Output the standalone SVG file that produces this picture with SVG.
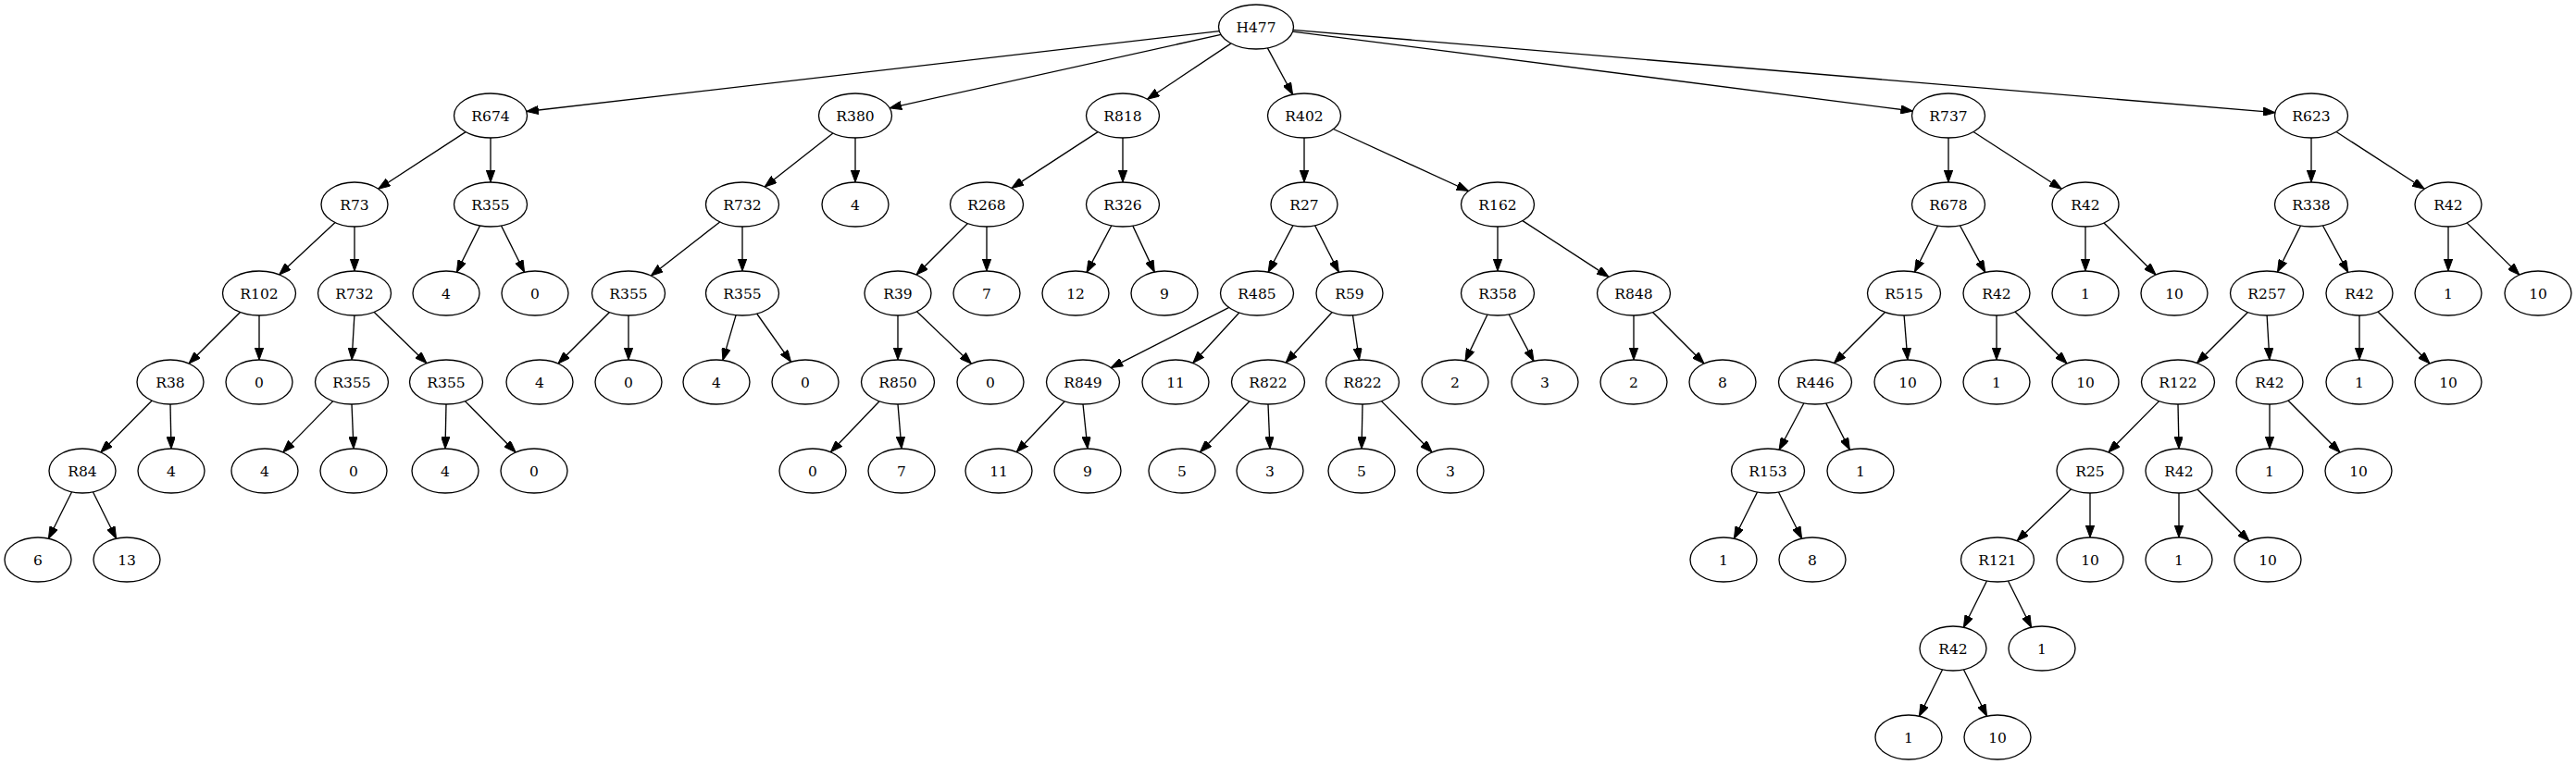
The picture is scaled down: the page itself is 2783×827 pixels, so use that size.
<svg xmlns="http://www.w3.org/2000/svg" width="2783" height="827" viewBox="0 0 2783 827">
<style>
ellipse{fill:#fff;stroke:#000;stroke-width:1.33}
text{font-family:"DejaVu Serif","Liberation Serif",serif;font-size:15.5px;text-anchor:middle;fill:#000}
#edges line{stroke:#000;stroke-width:1.33;marker-end:url(#arr)}
</style>
<defs>
<marker id="arr" markerUnits="userSpaceOnUse" viewBox="0 0 13 9.4" refX="13" refY="4.7" markerWidth="13" markerHeight="9.4" orient="auto">
<path d="M0,0 L13,4.7 L0,9.4 z" fill="#000" stroke="#000" stroke-width="1"/>
</marker>
</defs>
<rect width="2783" height="827" fill="#fff"/>
<g id="edges">
<line x1="1317.3" y1="33.6" x2="568.8" y2="120.5"/>
<line x1="1319.1" y1="37.4" x2="961.1" y2="116.8"/>
<line x1="1330.1" y1="46.9" x2="1239.6" y2="107.3"/>
<line x1="1369.4" y1="51.9" x2="1396.6" y2="102.2"/>
<line x1="1396.6" y1="34.1" x2="2066.4" y2="120.0"/>
<line x1="1397.1" y1="32.4" x2="2457.9" y2="121.7"/>
<line x1="503.1" y1="142.6" x2="408.7" y2="204.2"/>
<line x1="530" y1="149" x2="530" y2="197"/>
<line x1="899.9" y1="144" x2="826.1" y2="202"/>
<line x1="924" y1="149" x2="924" y2="197"/>
<line x1="1186.1" y1="142.6" x2="1092.9" y2="203.4"/>
<line x1="1213" y1="149" x2="1213" y2="197"/>
<line x1="1409" y1="149" x2="1409" y2="197"/>
<line x1="1440.5" y1="139.5" x2="1586.5" y2="206.5"/>
<line x1="2105" y1="149" x2="2105" y2="197"/>
<line x1="2132" y1="142.5" x2="2227.2" y2="204.3"/>
<line x1="2497" y1="149" x2="2497" y2="197"/>
<line x1="2524" y1="142.5" x2="2619.2" y2="204.3"/>
<line x1="362.1" y1="240.5" x2="301.6" y2="296.9"/>
<line x1="383" y1="245" x2="383" y2="293"/>
<line x1="518.5" y1="244" x2="493.4" y2="294.2"/>
<line x1="541.5" y1="244" x2="566.6" y2="294.2"/>
<line x1="777.7" y1="239.9" x2="703.3" y2="298.1"/>
<line x1="802" y1="245" x2="802" y2="293"/>
<line x1="1045.5" y1="241.5" x2="990" y2="297"/>
<line x1="1066" y1="245" x2="1066" y2="293"/>
<line x1="1200.9" y1="243.8" x2="1174" y2="294.4"/>
<line x1="1223.8" y1="244.1" x2="1247.3" y2="294.1"/>
<line x1="1397" y1="243.6" x2="1370.1" y2="294.2"/>
<line x1="1420.6" y1="243.7" x2="1446.4" y2="294.3"/>
<line x1="1618" y1="245" x2="1618" y2="293"/>
<line x1="1644.9" y1="238.6" x2="1738.1" y2="299.4"/>
<line x1="2093.5" y1="244" x2="2068.5" y2="294"/>
<line x1="2117.4" y1="243.8" x2="2144.8" y2="294.4"/>
<line x1="2253" y1="245" x2="2253" y2="293"/>
<line x1="2273" y1="241" x2="2329" y2="297"/>
<line x1="2485.5" y1="244" x2="2460.5" y2="294"/>
<line x1="2509.4" y1="243.8" x2="2536.8" y2="294.4"/>
<line x1="2645" y1="245" x2="2645" y2="293"/>
<line x1="2665.1" y1="240.9" x2="2721.9" y2="297.1"/>
<line x1="259.5" y1="337.5" x2="204" y2="393"/>
<line x1="280" y1="341" x2="280" y2="389"/>
<line x1="382.9" y1="341" x2="380.1" y2="389"/>
<line x1="404" y1="337.3" x2="461" y2="392.7"/>
<line x1="658.5" y1="337.5" x2="603" y2="393"/>
<line x1="679" y1="341" x2="679" y2="389"/>
<line x1="795.1" y1="340.6" x2="780.9" y2="389.4"/>
<line x1="817.6" y1="339" x2="854.6" y2="391.3"/>
<line x1="970" y1="341" x2="970" y2="389"/>
<line x1="990.5" y1="336.7" x2="1049.5" y2="393.3"/>
<line x1="1327.8" y1="332.4" x2="1200.2" y2="397.6"/>
<line x1="1338.8" y1="338" x2="1288.8" y2="392.5"/>
<line x1="1439.2" y1="337.5" x2="1389.2" y2="392"/>
<line x1="1461.5" y1="340.9" x2="1468.5" y2="389.1"/>
<line x1="1607" y1="340" x2="1583" y2="390.1"/>
<line x1="1630.1" y1="339.8" x2="1657" y2="390.4"/>
<line x1="1765" y1="341" x2="1765" y2="389"/>
<line x1="1785.5" y1="337.5" x2="1841" y2="393"/>
<line x1="2036.5" y1="337.5" x2="1981.5" y2="392.5"/>
<line x1="2057.1" y1="341" x2="2060.9" y2="389"/>
<line x1="2157" y1="341" x2="2157" y2="389"/>
<line x1="2177" y1="337" x2="2233" y2="393"/>
<line x1="2428.5" y1="337.5" x2="2373.5" y2="392.5"/>
<line x1="2449.1" y1="341" x2="2451.9" y2="389"/>
<line x1="2549" y1="341" x2="2549" y2="389"/>
<line x1="2569" y1="337" x2="2625" y2="393"/>
<line x1="164.2" y1="433" x2="108.8" y2="489"/>
<line x1="184" y1="437" x2="185" y2="485"/>
<line x1="359.8" y1="433.6" x2="305.7" y2="488.9"/>
<line x1="380" y1="437" x2="382" y2="485"/>
<line x1="482" y1="437" x2="481" y2="485"/>
<line x1="502.4" y1="433.6" x2="557.2" y2="489"/>
<line x1="950.1" y1="433.7" x2="897.4" y2="488.8"/>
<line x1="970" y1="437" x2="974" y2="485"/>
<line x1="1150.3" y1="433.8" x2="1098.2" y2="488.7"/>
<line x1="1170" y1="437" x2="1175" y2="485"/>
<line x1="1350" y1="433.7" x2="1296.5" y2="488.8"/>
<line x1="1370" y1="437" x2="1372" y2="485"/>
<line x1="1472" y1="437" x2="1471" y2="485"/>
<line x1="1492.4" y1="433.6" x2="1547.2" y2="489"/>
<line x1="1948.9" y1="435.8" x2="1922.1" y2="486.2"/>
<line x1="1972.7" y1="435.9" x2="1998.4" y2="486.3"/>
<line x1="2332.6" y1="433.6" x2="2277.8" y2="489"/>
<line x1="2353" y1="437" x2="2354" y2="485"/>
<line x1="2452" y1="437" x2="2452" y2="485"/>
<line x1="2472" y1="433" x2="2528" y2="489"/>
<line x1="77.6" y1="531.8" x2="52.4" y2="582.2"/>
<line x1="100.4" y1="531.8" x2="125.6" y2="582.2"/>
<line x1="1898.5" y1="532" x2="1873.4" y2="582.2"/>
<line x1="1921.5" y1="532" x2="1946.6" y2="582.2"/>
<line x1="2237.5" y1="528.7" x2="2179.1" y2="584.7"/>
<line x1="2258" y1="533" x2="2258" y2="581"/>
<line x1="2354" y1="533" x2="2354" y2="581"/>
<line x1="2374" y1="529" x2="2430" y2="585"/>
<line x1="2146.5" y1="628" x2="2121.4" y2="678.2"/>
<line x1="2169.5" y1="628" x2="2194.6" y2="678.2"/>
<line x1="2098.6" y1="723.8" x2="2073.4" y2="774.2"/>
<line x1="2121.4" y1="723.8" x2="2146.6" y2="774.2"/>
</g>
<g id="H477"><ellipse cx="1357" cy="29" rx="40.5" ry="24"/><text x="1357" y="34.5">H477</text></g>
<g id="R674"><ellipse cx="530" cy="125" rx="39.5" ry="24"/><text x="530" y="130.5">R674</text></g>
<g id="R380"><ellipse cx="924" cy="125" rx="39.5" ry="24"/><text x="924" y="130.5">R380</text></g>
<g id="R818"><ellipse cx="1213" cy="125" rx="39.5" ry="24"/><text x="1213" y="130.5">R818</text></g>
<g id="R402"><ellipse cx="1409" cy="125" rx="39.5" ry="24"/><text x="1409" y="130.5">R402</text></g>
<g id="R737"><ellipse cx="2105" cy="125" rx="39.5" ry="24"/><text x="2105" y="130.5">R737</text></g>
<g id="R623"><ellipse cx="2497" cy="125" rx="39.5" ry="24"/><text x="2497" y="130.5">R623</text></g>
<g id="R73"><ellipse cx="383" cy="221" rx="36" ry="24"/><text x="383" y="226.5">R73</text></g>
<g id="R355_a"><ellipse cx="530" cy="221" rx="39.5" ry="24"/><text x="530" y="226.5">R355</text></g>
<g id="R732_a"><ellipse cx="802" cy="221" rx="39.5" ry="24"/><text x="802" y="226.5">R732</text></g>
<g id="n4_a"><ellipse cx="924" cy="221" rx="36" ry="24"/><text x="924" y="226.5">4</text></g>
<g id="R268"><ellipse cx="1066" cy="221" rx="39.5" ry="24"/><text x="1066" y="226.5">R268</text></g>
<g id="R326"><ellipse cx="1213" cy="221" rx="39.5" ry="24"/><text x="1213" y="226.5">R326</text></g>
<g id="R27"><ellipse cx="1409" cy="221" rx="36" ry="24"/><text x="1409" y="226.5">R27</text></g>
<g id="R162"><ellipse cx="1618" cy="221" rx="39.5" ry="24"/><text x="1618" y="226.5">R162</text></g>
<g id="R678"><ellipse cx="2105" cy="221" rx="39.5" ry="24"/><text x="2105" y="226.5">R678</text></g>
<g id="R42_a"><ellipse cx="2253" cy="221" rx="36" ry="24"/><text x="2253" y="226.5">R42</text></g>
<g id="R338"><ellipse cx="2497" cy="221" rx="39.5" ry="24"/><text x="2497" y="226.5">R338</text></g>
<g id="R42_b"><ellipse cx="2645" cy="221" rx="36" ry="24"/><text x="2645" y="226.5">R42</text></g>
<g id="R102"><ellipse cx="280" cy="317" rx="39.5" ry="24"/><text x="280" y="322.5">R102</text></g>
<g id="R732_b"><ellipse cx="383" cy="317" rx="39.5" ry="24"/><text x="383" y="322.5">R732</text></g>
<g id="n4_b"><ellipse cx="482" cy="317" rx="36" ry="24"/><text x="482" y="322.5">4</text></g>
<g id="n0_b"><ellipse cx="578" cy="317" rx="36" ry="24"/><text x="578" y="322.5">0</text></g>
<g id="R355_b"><ellipse cx="679" cy="317" rx="39.5" ry="24"/><text x="679" y="322.5">R355</text></g>
<g id="R355_c"><ellipse cx="802" cy="317" rx="39.5" ry="24"/><text x="802" y="322.5">R355</text></g>
<g id="R39"><ellipse cx="970" cy="317" rx="36" ry="24"/><text x="970" y="322.5">R39</text></g>
<g id="n7_a"><ellipse cx="1066" cy="317" rx="36" ry="24"/><text x="1066" y="322.5">7</text></g>
<g id="n12"><ellipse cx="1162" cy="317" rx="36" ry="24"/><text x="1162" y="322.5">12</text></g>
<g id="n9_a"><ellipse cx="1258" cy="317" rx="36" ry="24"/><text x="1258" y="322.5">9</text></g>
<g id="R485"><ellipse cx="1358" cy="317" rx="39.5" ry="24"/><text x="1358" y="322.5">R485</text></g>
<g id="R59"><ellipse cx="1458" cy="317" rx="36" ry="24"/><text x="1458" y="322.5">R59</text></g>
<g id="R358"><ellipse cx="1618" cy="317" rx="39.5" ry="24"/><text x="1618" y="322.5">R358</text></g>
<g id="R848"><ellipse cx="1765" cy="317" rx="39.5" ry="24"/><text x="1765" y="322.5">R848</text></g>
<g id="R515"><ellipse cx="2057" cy="317" rx="39.5" ry="24"/><text x="2057" y="322.5">R515</text></g>
<g id="R42_c"><ellipse cx="2157" cy="317" rx="36" ry="24"/><text x="2157" y="322.5">R42</text></g>
<g id="n1_a"><ellipse cx="2253" cy="317" rx="36" ry="24"/><text x="2253" y="322.5">1</text></g>
<g id="n10_a"><ellipse cx="2349" cy="317" rx="36" ry="24"/><text x="2349" y="322.5">10</text></g>
<g id="R257"><ellipse cx="2449" cy="317" rx="39.5" ry="24"/><text x="2449" y="322.5">R257</text></g>
<g id="R42_d"><ellipse cx="2549" cy="317" rx="36" ry="24"/><text x="2549" y="322.5">R42</text></g>
<g id="n1_b"><ellipse cx="2645" cy="317" rx="36" ry="24"/><text x="2645" y="322.5">1</text></g>
<g id="n10_b"><ellipse cx="2742" cy="317" rx="36" ry="24"/><text x="2742" y="322.5">10</text></g>
<g id="R38"><ellipse cx="184" cy="413" rx="36" ry="24"/><text x="184" y="418.5">R38</text></g>
<g id="n0_c"><ellipse cx="280" cy="413" rx="36" ry="24"/><text x="280" y="418.5">0</text></g>
<g id="R355_d"><ellipse cx="380" cy="413" rx="39.5" ry="24"/><text x="380" y="418.5">R355</text></g>
<g id="R355_e"><ellipse cx="482" cy="413" rx="39.5" ry="24"/><text x="482" y="418.5">R355</text></g>
<g id="n4_c"><ellipse cx="583" cy="413" rx="36" ry="24"/><text x="583" y="418.5">4</text></g>
<g id="n0_d"><ellipse cx="679" cy="413" rx="36" ry="24"/><text x="679" y="418.5">0</text></g>
<g id="n4_d"><ellipse cx="774" cy="413" rx="36" ry="24"/><text x="774" y="418.5">4</text></g>
<g id="n0_e"><ellipse cx="870" cy="413" rx="36" ry="24"/><text x="870" y="418.5">0</text></g>
<g id="R850"><ellipse cx="970" cy="413" rx="39.5" ry="24"/><text x="970" y="418.5">R850</text></g>
<g id="n0_f"><ellipse cx="1070" cy="413" rx="36" ry="24"/><text x="1070" y="418.5">0</text></g>
<g id="R849"><ellipse cx="1170" cy="413" rx="39.5" ry="24"/><text x="1170" y="418.5">R849</text></g>
<g id="n11_a"><ellipse cx="1270" cy="413" rx="36" ry="24"/><text x="1270" y="418.5">11</text></g>
<g id="R822_a"><ellipse cx="1370" cy="413" rx="39.5" ry="24"/><text x="1370" y="418.5">R822</text></g>
<g id="R822_b"><ellipse cx="1472" cy="413" rx="39.5" ry="24"/><text x="1472" y="418.5">R822</text></g>
<g id="n2_a"><ellipse cx="1572" cy="413" rx="36" ry="24"/><text x="1572" y="418.5">2</text></g>
<g id="n3_a"><ellipse cx="1669" cy="413" rx="36" ry="24"/><text x="1669" y="418.5">3</text></g>
<g id="n2_b"><ellipse cx="1765" cy="413" rx="36" ry="24"/><text x="1765" y="418.5">2</text></g>
<g id="n8_a"><ellipse cx="1861" cy="413" rx="36" ry="24"/><text x="1861" y="418.5">8</text></g>
<g id="R446"><ellipse cx="1961" cy="413" rx="39.5" ry="24"/><text x="1961" y="418.5">R446</text></g>
<g id="n10_c"><ellipse cx="2061" cy="413" rx="36" ry="24"/><text x="2061" y="418.5">10</text></g>
<g id="n1_c"><ellipse cx="2157" cy="413" rx="36" ry="24"/><text x="2157" y="418.5">1</text></g>
<g id="n10_d"><ellipse cx="2253" cy="413" rx="36" ry="24"/><text x="2253" y="418.5">10</text></g>
<g id="R122"><ellipse cx="2353" cy="413" rx="39.5" ry="24"/><text x="2353" y="418.5">R122</text></g>
<g id="R42_e"><ellipse cx="2452" cy="413" rx="36" ry="24"/><text x="2452" y="418.5">R42</text></g>
<g id="n1_d"><ellipse cx="2549" cy="413" rx="36" ry="24"/><text x="2549" y="418.5">1</text></g>
<g id="n10_e"><ellipse cx="2645" cy="413" rx="36" ry="24"/><text x="2645" y="418.5">10</text></g>
<g id="R84"><ellipse cx="89" cy="509" rx="36" ry="24"/><text x="89" y="514.5">R84</text></g>
<g id="n4_e"><ellipse cx="185" cy="509" rx="36" ry="24"/><text x="185" y="514.5">4</text></g>
<g id="n4_f"><ellipse cx="286" cy="509" rx="36" ry="24"/><text x="286" y="514.5">4</text></g>
<g id="n0_g"><ellipse cx="382" cy="509" rx="36" ry="24"/><text x="382" y="514.5">0</text></g>
<g id="n4_g"><ellipse cx="481" cy="509" rx="36" ry="24"/><text x="481" y="514.5">4</text></g>
<g id="n0_h"><ellipse cx="577" cy="509" rx="36" ry="24"/><text x="577" y="514.5">0</text></g>
<g id="n0_i"><ellipse cx="878" cy="509" rx="36" ry="24"/><text x="878" y="514.5">0</text></g>
<g id="n7_b"><ellipse cx="974" cy="509" rx="36" ry="24"/><text x="974" y="514.5">7</text></g>
<g id="n11_b"><ellipse cx="1079" cy="509" rx="36" ry="24"/><text x="1079" y="514.5">11</text></g>
<g id="n9_b"><ellipse cx="1175" cy="509" rx="36" ry="24"/><text x="1175" y="514.5">9</text></g>
<g id="n5_a"><ellipse cx="1277" cy="509" rx="36" ry="24"/><text x="1277" y="514.5">5</text></g>
<g id="n3_b"><ellipse cx="1372" cy="509" rx="36" ry="24"/><text x="1372" y="514.5">3</text></g>
<g id="n5_b"><ellipse cx="1471" cy="509" rx="36" ry="24"/><text x="1471" y="514.5">5</text></g>
<g id="n3_c"><ellipse cx="1567" cy="509" rx="36" ry="24"/><text x="1567" y="514.5">3</text></g>
<g id="R153"><ellipse cx="1910" cy="509" rx="39.5" ry="24"/><text x="1910" y="514.5">R153</text></g>
<g id="n1_e"><ellipse cx="2010" cy="509" rx="36" ry="24"/><text x="2010" y="514.5">1</text></g>
<g id="R25"><ellipse cx="2258" cy="509" rx="36" ry="24"/><text x="2258" y="514.5">R25</text></g>
<g id="R42_f"><ellipse cx="2354" cy="509" rx="36" ry="24"/><text x="2354" y="514.5">R42</text></g>
<g id="n1_f"><ellipse cx="2452" cy="509" rx="36" ry="24"/><text x="2452" y="514.5">1</text></g>
<g id="n10_f"><ellipse cx="2548" cy="509" rx="36" ry="24"/><text x="2548" y="514.5">10</text></g>
<g id="n6"><ellipse cx="41" cy="605" rx="36" ry="24"/><text x="41" y="610.5">6</text></g>
<g id="n13"><ellipse cx="137" cy="605" rx="36" ry="24"/><text x="137" y="610.5">13</text></g>
<g id="n1_g"><ellipse cx="1862" cy="605" rx="36" ry="24"/><text x="1862" y="610.5">1</text></g>
<g id="n8_b"><ellipse cx="1958" cy="605" rx="36" ry="24"/><text x="1958" y="610.5">8</text></g>
<g id="R121"><ellipse cx="2158" cy="605" rx="39.5" ry="24"/><text x="2158" y="610.5">R121</text></g>
<g id="n10_g"><ellipse cx="2258" cy="605" rx="36" ry="24"/><text x="2258" y="610.5">10</text></g>
<g id="n1_h"><ellipse cx="2354" cy="605" rx="36" ry="24"/><text x="2354" y="610.5">1</text></g>
<g id="n10_h"><ellipse cx="2450" cy="605" rx="36" ry="24"/><text x="2450" y="610.5">10</text></g>
<g id="R42_g"><ellipse cx="2110" cy="701" rx="36" ry="24"/><text x="2110" y="706.5">R42</text></g>
<g id="n1_i"><ellipse cx="2206" cy="701" rx="36" ry="24"/><text x="2206" y="706.5">1</text></g>
<g id="n1_j"><ellipse cx="2062" cy="797" rx="36" ry="24"/><text x="2062" y="802.5">1</text></g>
<g id="n10_i"><ellipse cx="2158" cy="797" rx="36" ry="24"/><text x="2158" y="802.5">10</text></g>
</svg>
